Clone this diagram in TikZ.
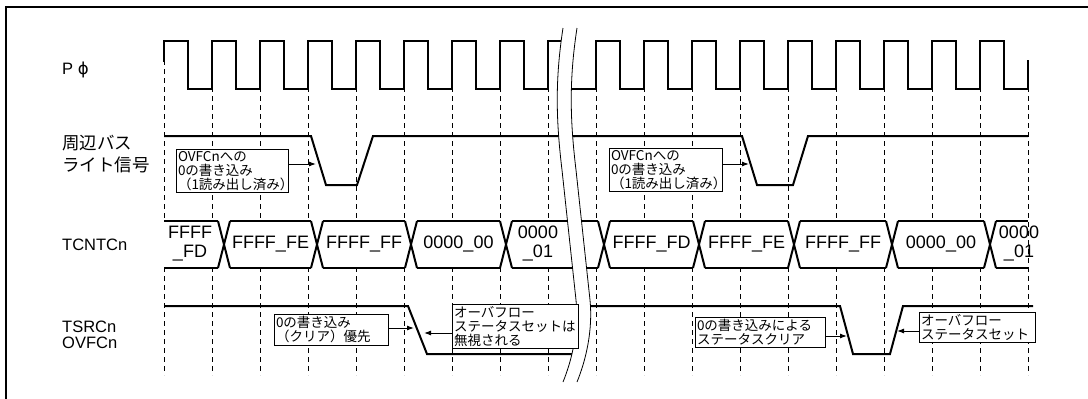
\documentclass[tikz,border=0pt]{standalone}
\usepackage{fontspec}
\setmainfont{Liberation Sans}
\newfontfamily\jpfont{Noto Sans CJK JP}
\newfontfamily\phifont{DejaVu Sans}
\usepackage{tikz}
\usetikzlibrary{arrows.meta}

\begin{document}
\begin{tikzpicture}[x=1pt, y=-1pt,
  sig/.style={line width=2pt, line join=miter},
  guide/.style={line width=0.9pt, dash pattern=on 5pt off 4pt},
  lbl/.style={anchor=west, inner sep=0pt, align=left, font=\fontsize{16.5}{16.5}\selectfont},
  lbljp/.style={anchor=west, inner sep=0pt, align=left, font=\jpfont\fontsize{17.5}{22}\selectfont},
  val/.style={inner sep=0pt, align=center, font=\fontsize{18}{19}\selectfont},
  note/.style={draw, fill=white, line width=1pt, anchor=north west, inner xsep=1.5pt, inner ysep=2pt, align=left, font=\jpfont\fontsize{13.5}{14}\selectfont},
  callarrow/.style={line width=1pt, -{Latex[length=7pt,width=5pt]}},
  breakline/.style={line width=0.8pt}]
  \useasboundingbox (0,0) rectangle (1088,399);
  \draw[line width=2pt] (1088,7) -- (6,7) -- (6,399);
  % clock edges
  \foreach \x in {164,212,...,548} \draw[guide] (\x,60) -- (\x,375);
  \foreach \x in {596,644,...,1028} \draw[guide] (\x,60) -- (\x,375);
  % P phi
  \draw[sig] (164,62) -- (164,41)
    \foreach \k in {0,...,7} { -- ({188+48*\k},41) -- ({188+48*\k},89) -- ({212+48*\k},89) -- ({212+48*\k},41) }
    -- (575,41);
  \draw[sig] (560,89) -- (596,89) -- (596,41)
    \foreach \k in {0,...,7} { -- ({620+48*\k},41) -- ({620+48*\k},89) -- ({644+48*\k},89) -- ({644+48*\k},41) }
    -- (1004,41) -- (1004,89) -- (1028,89) -- (1028,60);
  % write strobe
  \draw[sig] (164,136) -- (311,136) -- (326,185) -- (357,185) -- (373,136) -- (575,136);
  \draw[sig] (560,136) -- (742,136) -- (757,185) -- (793,185) -- (808,136) -- (1028,136);
  % counter bus
  \fill[white] (164,221) rectangle (1028,268);
  \foreach \c in {224,317,411,506,604,699,794,892,990}
    \draw[sig] ({\c-6},221) -- ({\c+6},268) ({\c-6},268) -- ({\c+6},221);
  \foreach \a/\b in {164/218, 230/311, 323/405, 417/500, 512/580, 560/598, 610/693, 705/788, 800/886, 898/984, 996/1028}
    \draw[sig] (\a,221) -- (\b,221) (\a,268) -- (\b,268);
  \node[val] (cntA) at (190,244) {FFFF\\\_FD};
  \node[val] (cntB) at (270.5,244) {FFFF\_FE};
  \node[val] (cntC) at (364,244) {FFFF\_FF};
  \node[val] (cntD) at (458.5,244) {0000\_00};
  \node[val] (cntE) at (538,244) {0000\\\_01};
  \node[val] (cntF) at (651.5,244) {FFFF\_FD};
  \node[val] (cntG) at (746.5,244) {FFFF\_FE};
  \node[val] (cntH) at (843,244) {FFFF\_FF};
  \node[val] (cntI) at (941,244) {0000\_00};
  \node[val] (cntJ) at (1019,244) {0000\\\_01};
  % overflow flag
  \draw[sig] (164,306) -- (408,306) -- (427,354) -- (580,354);
  \draw[sig] (575,306) -- (840,306) -- (853,354) -- (890,354) -- (903,306) -- (1033,306);
  % time break
  \fill[white] (563,28) .. controls (555,80) and (556,120) .. (562,170) -- (576,300)
    .. controls (579,330) and (572,360) .. (563,382) -- (577,382)
    .. controls (586,360) and (593,330) .. (590,300) -- (576,170)
    .. controls (570,120) and (569,80) .. (577,28) -- cycle;
  \draw[breakline] (563,28) .. controls (555,80) and (556,120) .. (562,170) -- (576,300) .. controls (579,330) and (572,360) .. (563,382);
  \draw[breakline] (577,28) .. controls (569,80) and (570,120) .. (576,170) -- (590,300) .. controls (593,330) and (586,360) .. (577,382);
  % notes
  \node[note, text width=109pt] (wrA) at (176,149) {OVFCnへの\\0の書き込み\\（1読み出し済み）};
  \node[note, text width=110pt] (wrB) at (609,148) {OVFCnへの\\0の書き込み\\（1読み出し済み）};
  \node[note, text width=111pt] (clrPri) at (274,314) {0の書き込み\\（クリア）優先};
  \node[note, text width=123pt] (ovfIgn) at (452,304) {オーバフロー\\ステータスセットは\\無視される};
  \node[note, text width=127pt] (stClr) at (695,317) {0の書き込みによる\\ステータスクリア};
  \node[note, text width=113pt] (ovfSet) at (919,312) {オーバフロー\\ステータスセット};
  \coordinate (tipA) at (316,164);
  \coordinate (tipB) at (749,164);
  \coordinate (tipC) at (414,328);
  \coordinate (tipD) at (424,333);
  \coordinate (tipE) at (847,336);
  \coordinate (tipF) at (897,331);
  \draw[callarrow] (wrA.east |- tipA) -- (tipA);
  \draw[callarrow] (wrB.east |- tipB) -- (tipB);
  \draw[callarrow] (clrPri.east |- tipC) -- (tipC);
  \draw[callarrow] (ovfIgn.west |- tipD) -- (tipD);
  \draw[callarrow] (stClr.east |- tipE) -- (tipE);
  \draw[callarrow] (ovfSet.west |- tipF) -- (tipF);
  % signal names
  \node[lbl] (pclk) at (62,70) {P {\phifont ϕ}};
  \node[lbljp] (pwr) at (62,154) {周辺バス\\ライト信号};
  \node[lbl] (tcnt) at (62,245) {TCNTCn};
  \node[lbl] (tsr) at (62,335) {TSRCn\\OVFCn};
\end{tikzpicture}
\end{document}
